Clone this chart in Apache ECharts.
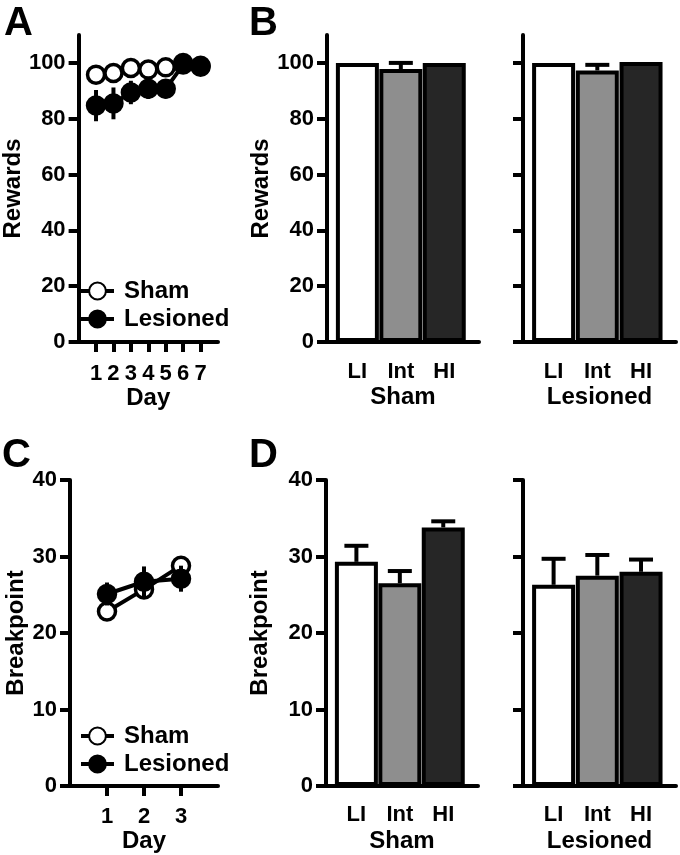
<!DOCTYPE html>
<html>
<head>
<meta charset="utf-8">
<script src="https://cdn.jsdelivr.net/npm/echarts@6/dist/echarts.min.js"></script>
<style>
html,body{margin:0;padding:0;background:#fff;}
#chart{width:680px;height:855px;}
</style>
</head>
<body>
<div id="chart"></div>
<script>
// ---------- DATA ----------
const daysA = [1, 2, 3, 4, 5, 6, 7];
const rewardsShamMean = [95.8, 96.4, 98.2, 97.6, 98.4, 100, 99];
const rewardsShamSem  = [1.2, 1.0, 1.0, 1.2, 1.0, 0.5, 0.5];
const rewardsLesMean  = [84.7, 85.5, 89.4, 90.7, 90.7, 99.4, 98.6];
const rewardsLesSem   = [5.6, 5.7, 4.2, 3.6, 3.4, 0.8, 0.5];

const daysC = [1, 2, 3];
const bpShamMean = [22.8, 25.7, 28.8];
const bpShamSem  = [1.0, 1.0, 0.9];
const bpLesMean  = [25.1, 26.7, 27.1];
const bpLesSem   = [1.5, 2.0, 1.7];

const conditions = ['LI', 'Int', 'HI'];
const rewardsBarShamMean = [100, 97.8, 100];
const rewardsBarShamSem  = [0, 2.2, 0];
const rewardsBarLesMean  = [100, 97.3, 100.3];
const rewardsBarLesSem   = [0, 2.0, 0];
const bpBarShamMean = [29.3, 26.5, 33.8];
const bpBarShamSem  = [2.1, 1.6, 0.8];
const bpBarLesMean  = [26.3, 27.5, 28.0];
const bpBarLesSem   = [3.4, 2.7, 1.6];

const rewardTicks = [0, 20, 40, 60, 80, 100];
const bpTicks = [0, 10, 20, 30, 40];

// ---------- STYLE ----------
const FONT = '"Liberation Sans", Arial, Helvetica, sans-serif';
const barFills = ['#ffffff', '#8e8e8e', '#262626'];
const LW = 4;

const chart = echarts.init(document.getElementById('chart'), null, {renderer: 'canvas'});

const grids = [
  {left: 70,  top: 35,  width: 148, height: 307}, // A
  {left: 327, top: 35,  width: 152, height: 307}, // B sham
  {left: 523, top: 35,  width: 153, height: 307}, // B lesioned
  {left: 70,  top: 480, width: 148, height: 306}, // C
  {left: 326, top: 480, width: 152, height: 306}, // D sham
  {left: 523, top: 480, width: 153, height: 306}  // D lesioned
];

const axisLineStyle = {show: true, onZero: false, lineStyle: {color: '#000', width: LW}};
const tickLabelStyle = {color: '#000', fontFamily: FONT, fontWeight: 'bold', fontSize: 22};
const nameStyle = {color: '#000', fontFamily: FONT, fontWeight: 'bold', fontSize: 24};

function yAxis(gi, max, ticks, showLabels, name, nameGap) {
  return {
    type: 'value', gridIndex: gi, min: 0, max: max,
    axisLine: axisLineStyle,
    axisTick: {show: true, length: 10, inside: false, customValues: ticks, lineStyle: {color: '#000', width: LW}},
    axisLabel: Object.assign({show: showLabels, margin: 13, customValues: ticks}, tickLabelStyle),
    splitLine: {show: false},
    name: name, nameLocation: 'middle', nameGap: nameGap,
    nameTextStyle: nameStyle
  };
}
function xDayAxis(gi, max, days, margin) {
  return {
    type: 'value', gridIndex: gi, min: 0, max: max,
    axisLine: axisLineStyle,
    axisTick: {show: true, length: 10, inside: false, customValues: days, lineStyle: {color: '#000', width: LW}},
    axisLabel: Object.assign({margin: margin, customValues: days}, tickLabelStyle),
    splitLine: {show: false},
    name: 'Day', nameLocation: 'middle', nameGap: 43, nameTextStyle: nameStyle
  };
}
function xBarAxis(gi, name, margin) {
  return {
    type: 'value', gridIndex: gi, min: 0.3, max: 3.8,
    axisLine: axisLineStyle,
    axisTick: {show: false},
    axisLabel: Object.assign({margin: margin, customValues: conditions.map((c, i) => i + 1),
      formatter: v => conditions[Math.round(v) - 1] || ''}, tickLabelStyle),
    splitLine: {show: false},
    name: name, nameLocation: 'middle', nameGap: 43, nameTextStyle: nameStyle
  };
}

// vertical error bar (no cap) for line plots
function lineErrSeries(name, gi, xs, mean, sem, z) {
  return {
    type: 'custom', name: name + ' SEM', xAxisIndex: gi, yAxisIndex: gi, z: z, silent: true,
    data: xs.map((x, i) => [x, mean[i] - sem[i], mean[i] + sem[i]]),
    renderItem: function (params, api) {
      const p1 = api.coord([api.value(0), api.value(1)]);
      const p2 = api.coord([api.value(0), api.value(2)]);
      return {type: 'line', shape: {x1: p1[0], y1: p1[1], x2: p2[0], y2: p2[1]},
        style: {stroke: '#000', lineWidth: LW}};
    }
  };
}
function lineSeries(name, gi, xs, mean, filled, z) {
  return {
    type: 'line', name: name, xAxisIndex: gi, yAxisIndex: gi, z: z,
    data: xs.map((x, i) => [x, mean[i]]),
    symbol: 'circle', symbolSize: 17,
    lineStyle: {color: '#000', width: LW},
    itemStyle: {color: filled ? '#000' : '#fff', borderColor: '#000', borderWidth: 3.5},
    emphasis: {disabled: true}
  };
}
function barSeries(gi, mean) {
  return {
    type: 'bar', xAxisIndex: gi, yAxisIndex: gi, barWidth: 43, z: 2,
    data: mean.map((v, i) => ({value: [i + 1, v], itemStyle: {color: barFills[i]}})),
    itemStyle: {borderColor: '#000', borderWidth: LW},
    emphasis: {disabled: true}
  };
}
function barErrSeries(gi, mean, sem) {
  return {
    type: 'custom', xAxisIndex: gi, yAxisIndex: gi, z: 3, silent: true,
    data: mean.map((v, i) => [i + 1, v, v + sem[i]]).filter((d, i) => sem[i] > 0),
    renderItem: function (params, api) {
      const p1 = api.coord([api.value(0), api.value(1)]);
      const p2 = api.coord([api.value(0), api.value(2)]);
      const cap = 12;
      return {type: 'group', children: [
        {type: 'line', shape: {x1: p1[0], y1: p1[1], x2: p2[0], y2: p2[1]}, style: {stroke: '#000', lineWidth: LW}},
        {type: 'line', shape: {x1: p2[0] - cap, y1: p2[1], x2: p2[0] + cap, y2: p2[1]}, style: {stroke: '#000', lineWidth: LW}}
      ]};
    }
  };
}

function panelLetter(txt, x, y) {
  return {type: 'text', left: x, top: y,
    style: {text: txt, fill: '#000', font: 'bold 40px ' + FONT}};
}

const legendBase = {
  orient: 'vertical', itemWidth: 33, itemHeight: 21, itemGap: 4,
  lineStyle: {width: LW, color: '#000'},
  textStyle: {color: '#000', fontFamily: FONT, fontWeight: 'bold', fontSize: 24, padding: [0, 0, 0, 5]},
  selectedMode: false, data: ['Sham', 'Lesioned']
};

const option = {
  animation: false,
  backgroundColor: '#fff',
  grid: grids,
  xAxis: [
    xDayAxis(0, 8, daysA, 21),
    xBarAxis(1, 'Sham', 19),
    xBarAxis(2, 'Lesioned', 19),
    xDayAxis(3, 4, daysC, 20),
    xBarAxis(4, 'Sham', 18),
    xBarAxis(5, 'Lesioned', 18)
  ],
  yAxis: [
    yAxis(0, 110, rewardTicks, true, 'Rewards', 41),
    yAxis(1, 110, rewardTicks, true, 'Rewards', 54),
    yAxis(2, 110, rewardTicks, false, '', 0),
    yAxis(3, 40, bpTicks, true, 'Breakpoint', 41),
    yAxis(4, 40, bpTicks, true, 'Breakpoint', 54),
    yAxis(5, 40, bpTicks, false, '', 0)
  ],
  legend: [
    Object.assign({left: 74, top: 274}, legendBase),
    Object.assign({left: 74, top: 719}, legendBase)
  ],
  series: [
    // A
    lineErrSeries('Sham', 0, daysA, rewardsShamMean, rewardsShamSem, 2),
    lineSeries('Sham', 0, daysA, rewardsShamMean, false, 3),
    lineErrSeries('Lesioned', 0, daysA, rewardsLesMean, rewardsLesSem, 4),
    lineSeries('Lesioned', 0, daysA, rewardsLesMean, true, 5),
    // B
    barSeries(1, rewardsBarShamMean), barErrSeries(1, rewardsBarShamMean, rewardsBarShamSem),
    barSeries(2, rewardsBarLesMean), barErrSeries(2, rewardsBarLesMean, rewardsBarLesSem),
    // C
    lineErrSeries('Sham', 3, daysC, bpShamMean, bpShamSem, 2),
    lineSeries('Sham', 3, daysC, bpShamMean, false, 3),
    lineErrSeries('Lesioned', 3, daysC, bpLesMean, bpLesSem, 4),
    lineSeries('Lesioned', 3, daysC, bpLesMean, true, 5),
    // D
    barSeries(4, bpBarShamMean), barErrSeries(4, bpBarShamMean, bpBarShamSem),
    barSeries(5, bpBarLesMean), barErrSeries(5, bpBarLesMean, bpBarLesSem)
  ],
  graphic: [
    panelLetter('A', 4, 4),
    panelLetter('B', 249, 4),
    panelLetter('C', 2, 436),
    panelLetter('D', 249, 436)
  ]
};
chart.setOption(option);
</script>
</body>
</html>
